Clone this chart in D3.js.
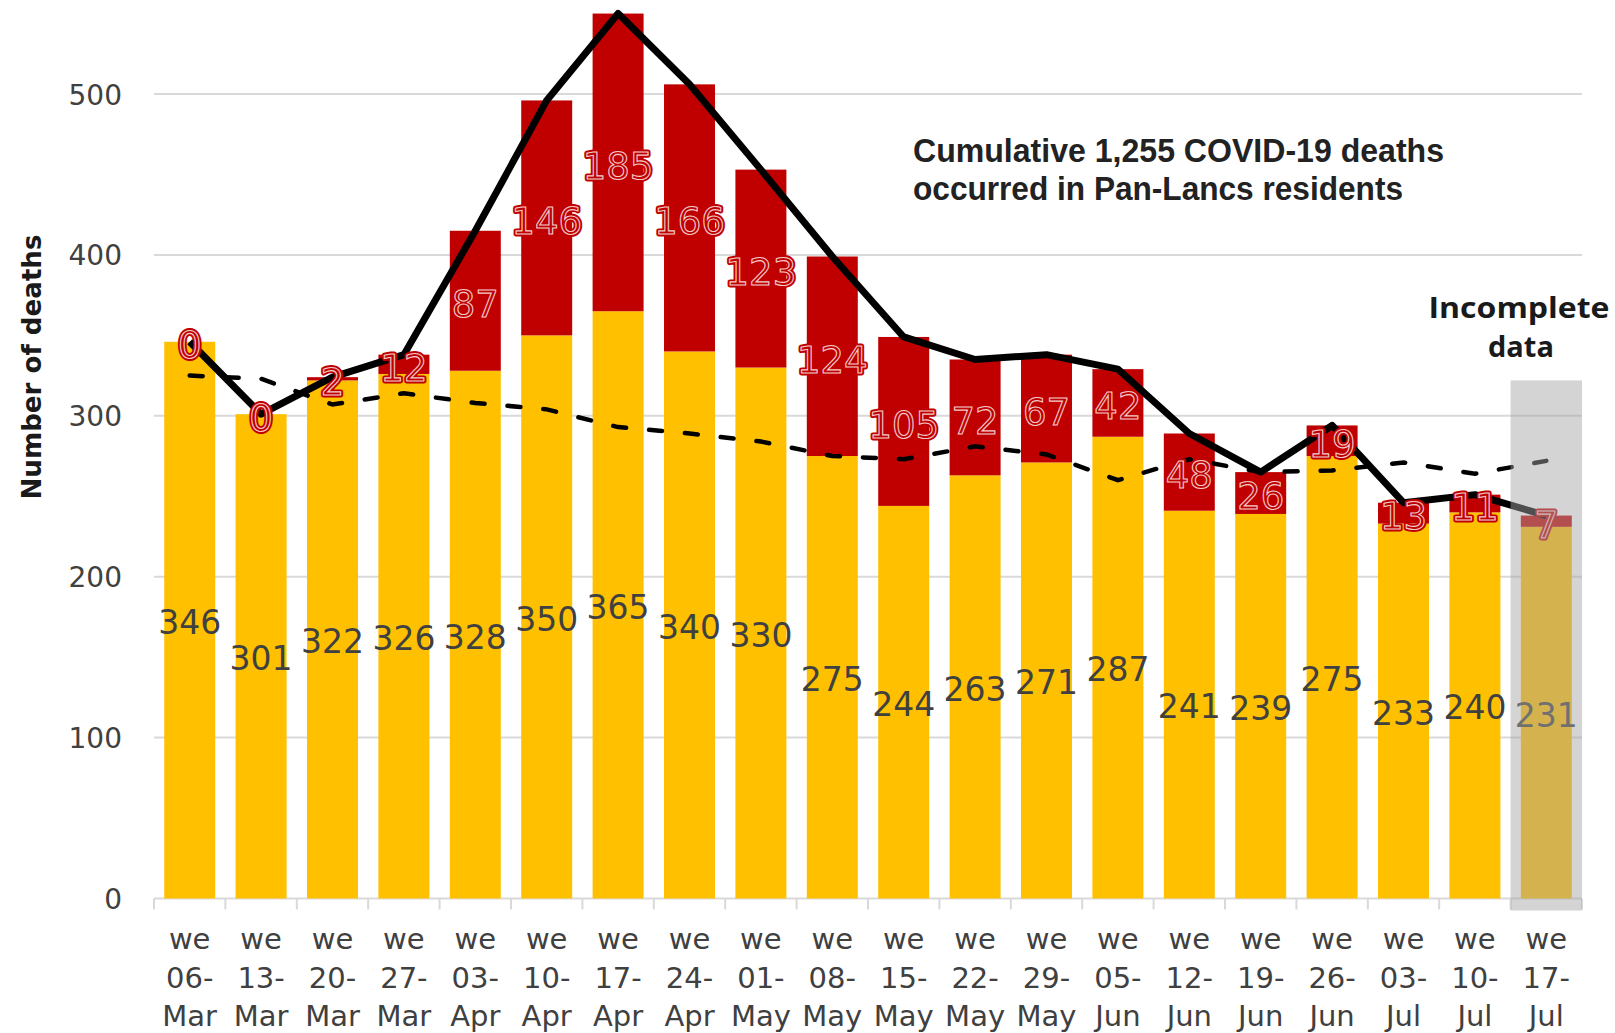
<!DOCTYPE html>
<html>
<head>
<meta charset="utf-8">
<script src="https://cdn.jsdelivr.net/npm/d3@7"></script>
<style>
  body { margin: 0; background: #fff; }
</style>
</head>
<body>
<div id="chart"></div>
<script>
// ---------------------------------------------------------- //
// Data                         //
// ---------------------------------------------------------- //
var weeks = ["06-Mar", "13-Mar", "20-Mar", "27-Mar", "03-Apr", "10-Apr", "17-Apr",
             "24-Apr", "01-May", "08-May", "15-May", "22-May", "29-May", "05-Jun",
             "12-Jun", "19-Jun", "26-Jun", "03-Jul", "10-Jul", "17-Jul"];
// non-COVID deaths (yellow, bottom of stack)
var otherDeaths = [346, 301, 322, 326, 328, 350, 365, 340, 330, 275,
                   244, 263, 271, 287, 241, 239, 275, 233, 240, 231];
// COVID-19 deaths (red, top of stack)
var covidDeaths = [0, 0, 2, 12, 87, 146, 185, 166, 123, 124,
                   105, 72, 67, 42, 48, 26, 19, 13, 11, 7];
// dashed line (expected / average deaths)
var expectedDeaths = [325, 323, 307, 314, 308, 304, 293, 289, 284, 275,
                      273, 281, 276, 260, 273, 265, 266, 271, 264, 272];
var yTicks = [0, 100, 200, 300, 400, 500];
var incompleteWeek = "17-Jul";

var data = weeks.map(function(w, i) {
  return { week: w, other: otherDeaths[i], covid: covidDeaths[i],
           total: otherDeaths[i] + covidDeaths[i], expected: expectedDeaths[i] };
});

// ---------------------------------------------------------- //
// Canvas                                                     //
// ---------------------------------------------------------- //
var width = 1615, height = 1033;
var svg = d3.select("#chart").append("svg")
  .attr("width", width).attr("height", height)
  .style("font-family", "'DejaVu Sans', sans-serif");

var x = d3.scaleBand().domain(weeks).range([154, 1582])
  .paddingInner(0.286).paddingOuter(0.143);
var y = d3.scaleLinear().domain([0, 500]).range([898.5, 94]);
var step = x.step();
var cx = function(d) { return x(d.week) + x.bandwidth() / 2; };

// gridlines
svg.append("g").selectAll("line")
  .data(yTicks.slice(1)).enter().append("line")
    .attr("x1", 154).attr("x2", 1582)
    .attr("y1", function(d) { return y(d); }).attr("y2", function(d) { return y(d); })
    .attr("stroke", "#d9d9d9").attr("stroke-width", 2);

// Y axis
var yAxis = svg.append("g").attr("transform", "translate(154,0)")
  .call(d3.axisLeft(y).tickValues(yTicks).tickSize(0).tickPadding(32));
yAxis.select(".domain").remove();
yAxis.selectAll("text").attr("font-size", 28).attr("fill", "#404040")
  .attr("font-family", "'DejaVu Sans', sans-serif").attr("dy", "0.36em");

svg.append("text")
  .attr("transform", "translate(41,367) rotate(-90)")
  .attr("text-anchor", "middle").attr("font-size", 26).attr("font-weight", "bold")
  .attr("fill", "#1a1a1a").attr("textLength", 265).attr("lengthAdjust", "spacingAndGlyphs")
  .text("Number of deaths");

// X axis: baseline + ticks at band boundaries
svg.append("line").attr("x1", 154).attr("x2", 1582)
  .attr("y1", y(0)).attr("y2", y(0)).attr("stroke", "#d9d9d9").attr("stroke-width", 2);
svg.append("g").selectAll("line")
  .data(d3.range(weeks.length + 1)).enter().append("line")
    .attr("x1", function(i) { return 154 + i * step; })
    .attr("x2", function(i) { return 154 + i * step; })
    .attr("y1", y(0)).attr("y2", y(0) + 11)
    .attr("stroke", "#d9d9d9").attr("stroke-width", 2);

var xl = svg.append("g").selectAll("text")
  .data(data).enter().append("text")
    .attr("text-anchor", "middle").attr("font-size", 29).attr("fill", "#404040");
xl.each(function(d) {
  var parts = d.week.split("-");
  var t = d3.select(this);
  [["we", 949], [parts[0] + "-", 988], [parts[1], 1026]].forEach(function(p) {
    t.append("tspan").attr("x", cx(d)).attr("y", p[1]).text(p[0]);
  });
});

// ---------------------------------------------------------- //
// Stacked bars                                               //
// ---------------------------------------------------------- //
var bars = svg.append("g");
bars.selectAll(".other").data(data).enter().append("rect")
  .attr("x", function(d) { return x(d.week); })
  .attr("width", x.bandwidth())
  .attr("y", function(d) { return y(d.other); })
  .attr("height", function(d) { return y(0) - y(d.other); })
  .attr("fill", "#ffc000");
bars.selectAll(".covid").data(data).enter().append("rect")
  .attr("x", function(d) { return x(d.week); })
  .attr("width", x.bandwidth())
  .attr("y", function(d) { return y(d.total); })
  .attr("height", function(d) { return y(d.other) - y(d.total); })
  .attr("fill", "#c00000");

// ---------------------------------------------------------- //
// Lines                                                      //
// ---------------------------------------------------------- //
svg.append("path").datum(data)
  .attr("fill", "none").attr("stroke", "#000").attr("stroke-width", 4.5)
  .attr("stroke-dasharray", "13,23").attr("stroke-linecap", "round")
  .attr("d", d3.line().x(cx).y(function(d) { return y(d.expected); }));

svg.append("path").datum(data)
  .attr("fill", "none").attr("stroke", "#000").attr("stroke-width", 7)
  .attr("stroke-linejoin", "round")
  .attr("d", d3.line().x(cx).y(function(d) { return y(d.total); }));

// ---------------------------------------------------------- //
// Data labels                                                //
// ---------------------------------------------------------- //
svg.append("g").selectAll("text").data(data).enter().append("text")
  .attr("x", cx).attr("y", function(d) { return y(d.other / 2) + 2; })
  .attr("dy", "0.36em").attr("text-anchor", "middle")
  .attr("font-size", 33).attr("fill", "#404040")
  .text(function(d) { return d.other; });

var redLabelY = function(d) { return y(d.other + d.covid / 2) + 3; };
// outer red rim
svg.append("g").selectAll("text").data(data).enter().append("text")
  .attr("x", cx).attr("y", redLabelY)
  .attr("dy", "0.36em").attr("text-anchor", "middle").attr("font-size", 37)
  .attr("fill", "#c00000").attr("stroke", "#c00000").attr("stroke-width", 5)
  .attr("stroke-linejoin", "round")
  .text(function(d) { return d.covid; });
// fill with thin white outline
svg.append("g").selectAll("text").data(data).enter().append("text")
  .attr("x", cx).attr("y", redLabelY)
  .attr("dy", "0.36em").attr("text-anchor", "middle").attr("font-size", 37)
  .attr("fill", "#c00000").attr("stroke", "#fff").attr("stroke-width", 1.1)
  .attr("stroke-opacity", 0.8)
  .text(function(d) { return d.covid; });

// ---------------------------------------------------------- //
// Incomplete data overlay                                    //
// ---------------------------------------------------------- //
svg.append("rect")
  .attr("x", x(incompleteWeek) - x.paddingInner() * step / 2)
  .attr("width", step)
  .attr("y", y(322)).attr("height", y(0) + 12 - y(322))
  .attr("fill", "#a6a6a6").attr("opacity", 0.48);

var inc = svg.append("text").attr("text-anchor", "middle")
  .attr("font-family", "'Open Sans', sans-serif").attr("font-weight", "bold")
  .attr("font-size", 29).attr("fill", "#1a1a1a");
inc.append("tspan").attr("x", 1519).attr("y", 318)
  .attr("textLength", 181).attr("lengthAdjust", "spacingAndGlyphs").text("Incomplete");
inc.append("tspan").attr("x", 1521).attr("y", 357).text("data");

// annotation
var ann = svg.append("text")
  .attr("font-family", "'Liberation Sans', Arial, sans-serif").attr("font-weight", "bold")
  .attr("font-size", 33).attr("fill", "#222");
ann.append("tspan").attr("x", 913).attr("y", 162)
  .attr("textLength", 531).attr("lengthAdjust", "spacingAndGlyphs")
  .text("Cumulative 1,255 COVID-19 deaths");
ann.append("tspan").attr("x", 913).attr("y", 200)
  .attr("textLength", 490).attr("lengthAdjust", "spacingAndGlyphs")
  .text("occurred in Pan-Lancs residents");
</script>
</body>
</html>
